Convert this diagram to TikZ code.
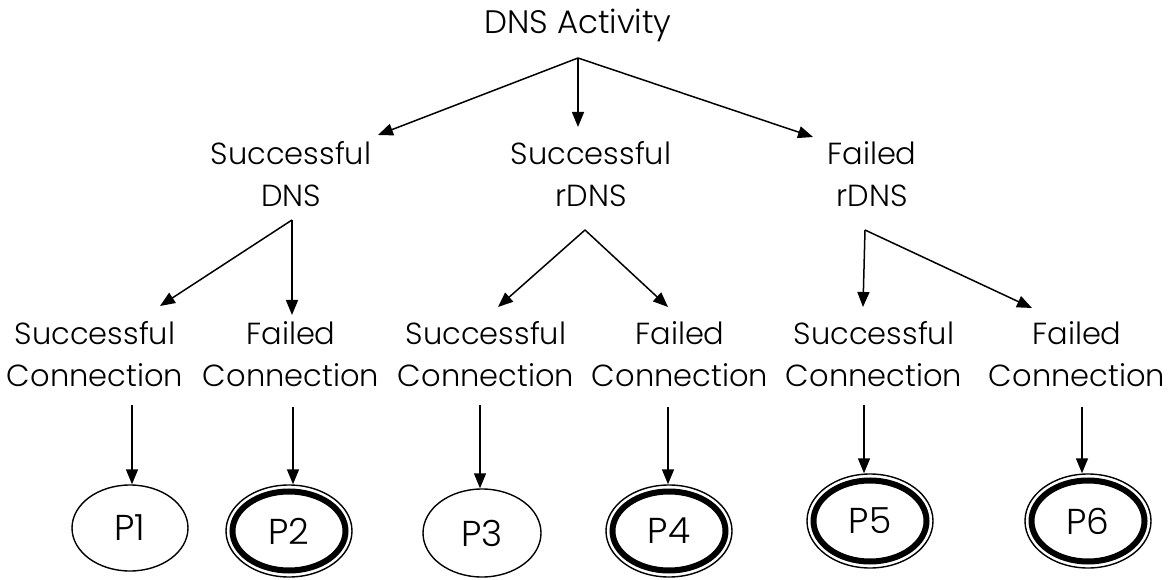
\documentclass[tikz,border=0pt]{standalone}
\usepackage{fontspec}
\setmainfont{Poppins}[UprightFont=* Light]
\usetikzlibrary{arrows.meta,shapes.geometric}

\tikzset{
  lbl/.style={align=center, inner sep=0pt, anchor=north,
    font=\fontsize{30.5}{42.5}\selectfont},
  edge/.style={line width=1.5pt, -{Triangle[length=15pt,width=12pt]}},
  outcome/.style={ellipse, inner sep=0pt, font=\fontsize{36}{40}\selectfont},
  plain/.style 2 args={outcome, draw, line width=1.4pt,
    minimum width=#1, minimum height=#2},
  alert/.style 2 args={outcome, draw, line width=1.4pt,
    minimum width=#1, minimum height=#2,
    append after command={
      \pgfextra{\draw[line width=6pt]
        (\tikzlastnode.center) ellipse
        [x radius=#1/2-6.5pt, y radius=#2/2-6.5pt];}}},
}

\begin{document}
\begin{tikzpicture}[x=1pt, y=-1pt]
\useasboundingbox (0,0) rectangle (1168,580);

% labels
\node[lbl, font=\fontsize{32.5}{42}\selectfont] (act) at (578,9) {DNS Activity};
\node[lbl] (sdns)  at (291,141) {Successful\\DNS};
\node[lbl] (srdns) at (591,141) {Successful\\rDNS};
\node[lbl] (frdns) at (872,141) {Failed\\rDNS};

\node[lbl] (sc1) at (95,321)   {Successful\\Connection};
\node[lbl] (fc1) at (291,321)  {Failed\\Connection};
\node[lbl] (sc2) at (486,321)  {Successful\\Connection};
\node[lbl] (fc2) at (680,321)  {Failed\\Connection};
\node[lbl] (sc3) at (874,321)  {Successful\\Connection};
\node[lbl] (fc3) at (1077,321) {Failed\\Connection};

% outcomes
\node[plain={116pt}{86pt}] (p1) at (130,528) {P1};
\node[alert={126pt}{92pt}] (p2) at (289,531) {P2};
\node[plain={118pt}{88pt}] (p3) at (482,533) {P3};
\node[alert={126pt}{92pt}] (p4) at (669,531) {P4};
\node[alert={126pt}{94pt}] (p5) at (870,521) {P5};
\node[alert={126pt}{94pt}] (p6) at (1088,521) {P6};

% branching points and arrow ends
\coordinate (actO)   at (578,58);
\coordinate (sdnsO)  at (292,220);
\coordinate (srdnsO) at (585,230);
\coordinate (frdnsO) at (865,230);

\coordinate (sdnsT)  at (378,135);
\coordinate (srdnsT) at (578,127);
\coordinate (frdnsT) at (813,137);

\coordinate (sc1T) at (160,306);
\coordinate (fc1T) at (292,315);
\coordinate (sc2T) at (498,307);
\coordinate (fc2T) at (668,307);
\coordinate (sc3T) at (863,307);
\coordinate (fc3T) at (1032,308);

\coordinate (sc1B) at (132,405);
\coordinate (fc1B) at (293,407);
\coordinate (sc2B) at (480,405);
\coordinate (fc2B) at (668,407);
\coordinate (sc3B) at (864,405);
\coordinate (fc3B) at (1082,407);

% connectors
\draw[edge] (actO) -- (sdnsT);
\draw[edge] (actO) -- (srdnsT);
\draw[edge] (actO) -- (frdnsT);

\draw[edge] (sdnsO) -- (sc1T);
\draw[edge] (sdnsO) -- (fc1T);
\draw[edge] (srdnsO) -- (sc2T);
\draw[edge] (srdnsO) -- (fc2T);
\draw[edge] (frdnsO) -- (sc3T);
\draw[edge] (frdnsO) -- (fc3T);

\draw[edge] (sc1B) -- (sc1B |- p1.north);
\draw[edge] (fc1B) -- (fc1B |- p2.north);
\draw[edge] (sc2B) -- (sc2B |- p3.north);
\draw[edge] (fc2B) -- (fc2B |- p4.north);
\draw[edge] (sc3B) -- (sc3B |- p5.north);
\draw[edge] (fc3B) -- (fc3B |- p6.north);
\end{tikzpicture}
\end{document}
